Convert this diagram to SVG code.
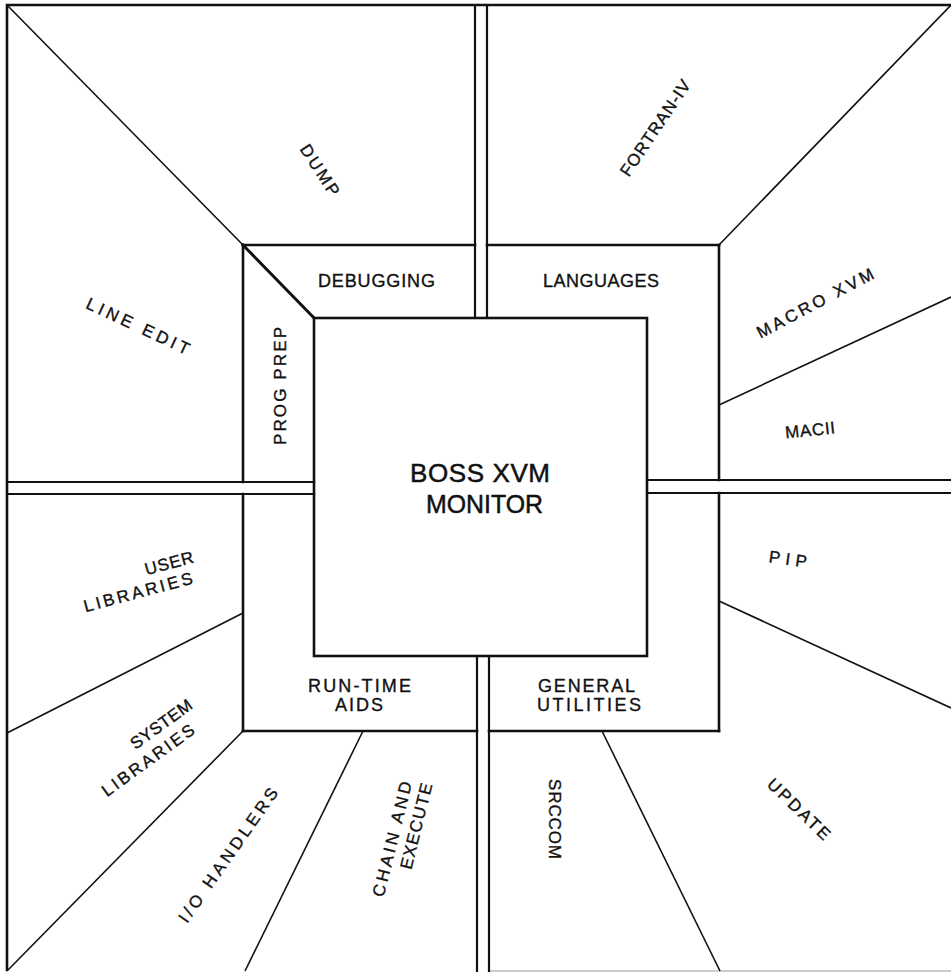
<svg xmlns="http://www.w3.org/2000/svg" width="951" height="972" viewBox="0 0 951 972">
<style>
.ln{stroke:#111;fill:none;stroke-linecap:square}
.b{stroke-width:2.6}
.m{stroke-width:2.2}
.th{stroke-width:1.6;stroke-linecap:butt}
.t{font-family:"Liberation Sans",Arial,sans-serif;font-size:17px;fill:#111;stroke:#111;stroke-width:0.35;text-anchor:middle}
.h{font-size:18px}
.big{font-size:26px;stroke-width:0.5}
</style>
<rect width="951" height="972" fill="#fff"/>
<g id="connectors">
  <path class="ln b" d="M7,970 V5 H951"/>
  <path d="M489,971 H951" stroke="#bbb" stroke-width="1.5" fill="none"/>
  <path class="ln m" d="M475,5 V318 M487,5 V318"/>
  <path class="ln m" d="M477,656 V971 M489,656 V971"/>
  <path class="ln m" d="M7,482 H314 M7,494 H314"/>
  <path class="ln m" d="M647,480 H951 M647,493 H951"/>
  <path class="ln b" d="M243,245 H475 M487,245 H719"/>
  <path class="ln b" d="M243,731 H477 M489,731 H719"/>
  <path class="ln b" d="M243,245 V482 M243,494 V731"/>
  <path class="ln b" d="M719,245 V480 M719,493 V731"/>
  <path class="ln th" d="M7,5 L243,245"/>
  <path class="ln" stroke-width="3" d="M243,245 L314,318"/>
  <path class="ln th" d="M719,245 L951,5"/>
  <path class="ln th" d="M243,731 L8,970"/>
  <path class="ln th" d="M719,405 L951,297"/>
  <path class="ln th" d="M719,601 L951,708"/>
  <path class="ln th" d="M243,613 L7,733"/>
  <path class="ln th" d="M363,731 L245,971"/>
  <path class="ln th" d="M602,731 L720,971"/>
</g>
<g id="monitor">
  <rect class="ln b" x="314" y="318" width="333" height="338"/>
  <text class="t big" x="480" y="482" textLength="140" lengthAdjust="spacing">BOSS XVM</text>
  <text class="t big" x="484.5" y="513" textLength="117" lengthAdjust="spacingAndGlyphs">MONITOR</text>
</g>
<g id="debugging"><text class="t h" x="376.5" y="287" textLength="117" lengthAdjust="spacing">DEBUGGING</text></g>
<g id="languages"><text class="t h" x="601" y="287" textLength="116" lengthAdjust="spacing">LANGUAGES</text></g>
<g id="prog-prep"><text class="t" transform="translate(280,386) rotate(-90)" y="6" textLength="118" lengthAdjust="spacing">PROG PREP</text></g>
<g id="run-time-aids">
  <text class="t h" x="359.5" y="692" textLength="103" lengthAdjust="spacing">RUN-TIME</text>
  <text class="t h" x="359" y="711" textLength="48" lengthAdjust="spacing">AIDS</text>
</g>
<g id="general-utilities">
  <text class="t h" x="586.5" y="692" textLength="97" lengthAdjust="spacing">GENERAL</text>
  <text class="t h" x="589" y="711" textLength="104" lengthAdjust="spacing">UTILITIES</text>
</g>
<g id="dump"><text class="t" transform="translate(320,170) rotate(57)" y="6" textLength="58" lengthAdjust="spacing">DUMP</text></g>
<g id="fortran"><text class="t" transform="translate(655,128) rotate(-56)" y="6" textLength="112" lengthAdjust="spacing">FORTRAN-IV</text></g>
<g id="line-edit"><text class="t" transform="translate(138,326) rotate(25)" y="6" textLength="112" lengthAdjust="spacing">LINE EDIT</text></g>
<g id="macro-xvm"><text class="t" transform="translate(815,303) rotate(-28)" y="6" textLength="130" lengthAdjust="spacing">MACRO XVM</text></g>
<g id="macii"><text class="t" transform="translate(810,430) rotate(-6)" y="6" font-size="16" textLength="50" lengthAdjust="spacing">MACII</text></g>
<g id="pip"><text class="t" transform="translate(788,559) rotate(8)" y="6" font-size="16" textLength="38" lengthAdjust="spacing">PIP</text></g>
<g id="update"><text class="t" transform="translate(799,809) rotate(44)" y="6" textLength="80" lengthAdjust="spacing">UPDATE</text></g>
<g id="srccom"><text class="t" transform="translate(555,819) rotate(90)" y="6" textLength="80" lengthAdjust="spacing">SRCCOM</text></g>
<g id="chain-execute">
  <text class="t" transform="translate(392,839) rotate(-76)" y="6" textLength="118" lengthAdjust="spacing">CHAIN AND</text>
  <text class="t" transform="translate(416,826) rotate(-76)" y="6" textLength="88" lengthAdjust="spacing">EXECUTE</text>
</g>
<g id="io-handlers"><text class="t" transform="translate(228,855) rotate(-55)" y="6" textLength="160" lengthAdjust="spacing">I/O HANDLERS</text></g>
<g id="system-libraries">
  <text class="t" transform="translate(161,724) rotate(-36)" y="6" textLength="72" lengthAdjust="spacing">SYSTEM</text>
  <text class="t" transform="translate(148,760) rotate(-36)" y="6" textLength="110" lengthAdjust="spacing">LIBRARIES</text>
</g>
<g id="user-libraries">
  <text class="t" transform="translate(169,563) rotate(-15)" y="6" textLength="50" lengthAdjust="spacing">USER</text>
  <text class="t" transform="translate(138,592) rotate(-15)" y="6" textLength="112" lengthAdjust="spacing">LIBRARIES</text>
</g>
</svg>
